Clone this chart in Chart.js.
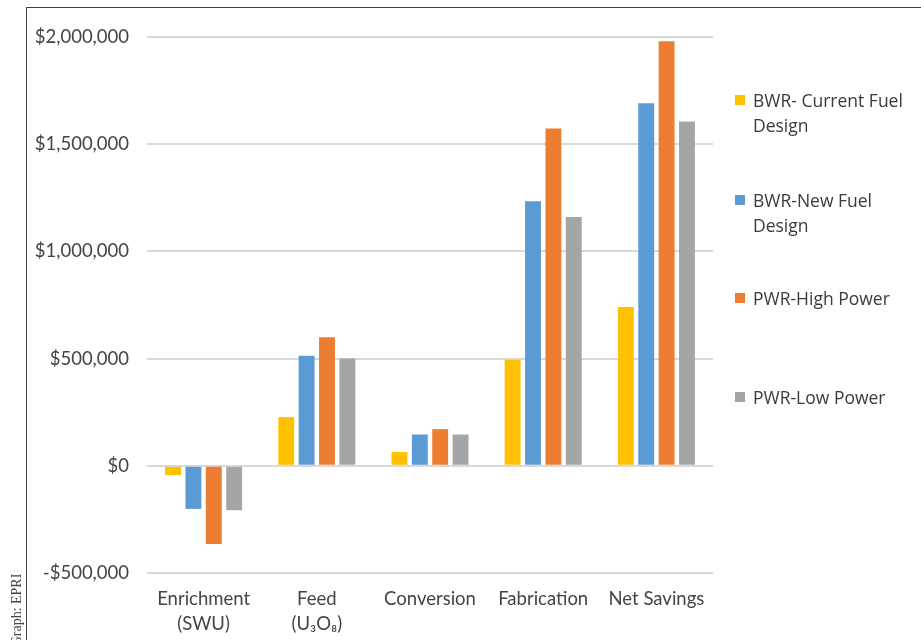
<!DOCTYPE html>
<html>
<head>
<meta charset="utf-8">
<script src="https://cdn.jsdelivr.net/npm/chart.js@4/dist/chart.umd.min.js"></script>
<style>
  html, body { margin: 0; padding: 0; background: #ffffff; }
  #wrap { position: relative; width: 921px; height: 640px; overflow: hidden; }
  #frame { position: absolute; left: 26px; top: 7px; right: -2px; bottom: -2px;
           border-top: 1px solid #404040; border-left: 1px solid #404040; }
  #c { position: absolute; left: 0; top: 0; }
  #credit { position: absolute; left: 17px; top: 610px; transform: translate(-50%, -50%) rotate(-90deg);
            font-family: "Liberation Serif", serif; font-size: 14px; color: #444; white-space: nowrap; }
  .lg { position: absolute; left: 735px; width: 180px; font-family: "Open Sans", sans-serif;
        font-size: 17.5px; line-height: 25px; color: #3a3a3a; }
  .lg .box { position: absolute; left: 0; top: 7.5px; width: 10px; height: 10px; }
  .lg .txt { margin-left: 18px; max-width: 162px; }
</style>
</head>
<body>
<div id="wrap">
  <canvas id="c" width="921" height="640"></canvas>
  <div id="frame"></div>
  <div id="credit">Graph: EPRI</div>
  <div id="legend"></div>
</div>
<script>
// Fuel cycle savings by cost component (US dollars)
const categories = [["Enrichment", "(SWU)"], ["Feed", "(U\u2083O\u2088)"], "Conversion", "Fabrication", "Net Savings"];
const seriesNames = ["BWR- Current Fuel Design", "BWR-New Fuel Design", "PWR-High Power", "PWR-Low Power"];
const bwrCurrent = [-43000, 227000, 64000, 495000, 741000];
const bwrNew     = [-201000, 513000, 146000, 1234000, 1691000];
const pwrHigh    = [-365000, 599000, 171000, 1573000, 1980000];
const pwrLow     = [-207000, 501000, 146000, 1161000, 1606000];
const yTicks     = [-500000, 0, 500000, 1000000, 1500000, 2000000];

const colors = ["#FFC000", "#5B9BD5", "#ED7D31", "#A5A5A5"];
const seriesValues = [bwrCurrent, bwrNew, pwrHigh, pwrLow];

const axisFont = { family: "Lato, 'Open Sans', sans-serif", size: 18.5, lineHeight: 1.35 };

const fmt = v => (v < 0 ? "-$" : "$") + Math.abs(v).toLocaleString("en-US");

const chart = new Chart(document.getElementById("c"), {
  type: "bar",
  data: {
    labels: categories,
    datasets: seriesNames.map((name, i) => ({
      label: name,
      data: seriesValues[i],
      backgroundColor: colors[i],
      borderWidth: 0,
      categoryPercentage: 0.72,
      barPercentage: 0.78
    }))
  },
  options: {
    responsive: false,
    animation: false,
    devicePixelRatio: 1,
    layout: { padding: { left: 0, top: 37, right: 208, bottom: 0 } },
    plugins: { legend: { display: false }, tooltip: { enabled: false } },
    scales: {
      x: {
        grid: { display: false, drawTicks: false },
        border: { display: false },
        ticks: { color: "#444444", font: axisFont, padding: 13.5, maxRotation: 0, autoSkip: false },
        afterFit: s => { s.height = 67; }
      },
      y: {
        min: -500000,
        max: 2000000,
        afterBuildTicks: s => { s.ticks = yTicks.map(v => ({ value: v })); },
        grid: { color: "#d9d9d9", lineWidth: 2, drawTicks: false },
        border: { display: false },
        ticks: { color: "#444444", font: axisFont, padding: 18, callback: v => fmt(v) },
        afterFit: s => { s.width = 147; }
      }
    }
  }
});

// Legend built from the dataset labels and colours
const legendTops = [87.5, 187.5, 285.5, 384.5];
const legend = document.getElementById("legend");
chart.data.datasets.forEach((ds, i) => {
  const item = document.createElement("div");
  item.className = "lg";
  item.style.top = legendTops[i] + "px";
  const box = document.createElement("div");
  box.className = "box";
  box.style.background = ds.backgroundColor;
  const txt = document.createElement("div");
  txt.className = "txt";
  txt.textContent = ds.label;
  item.appendChild(box);
  item.appendChild(txt);
  legend.appendChild(item);
});
</script>
</body>
</html>
